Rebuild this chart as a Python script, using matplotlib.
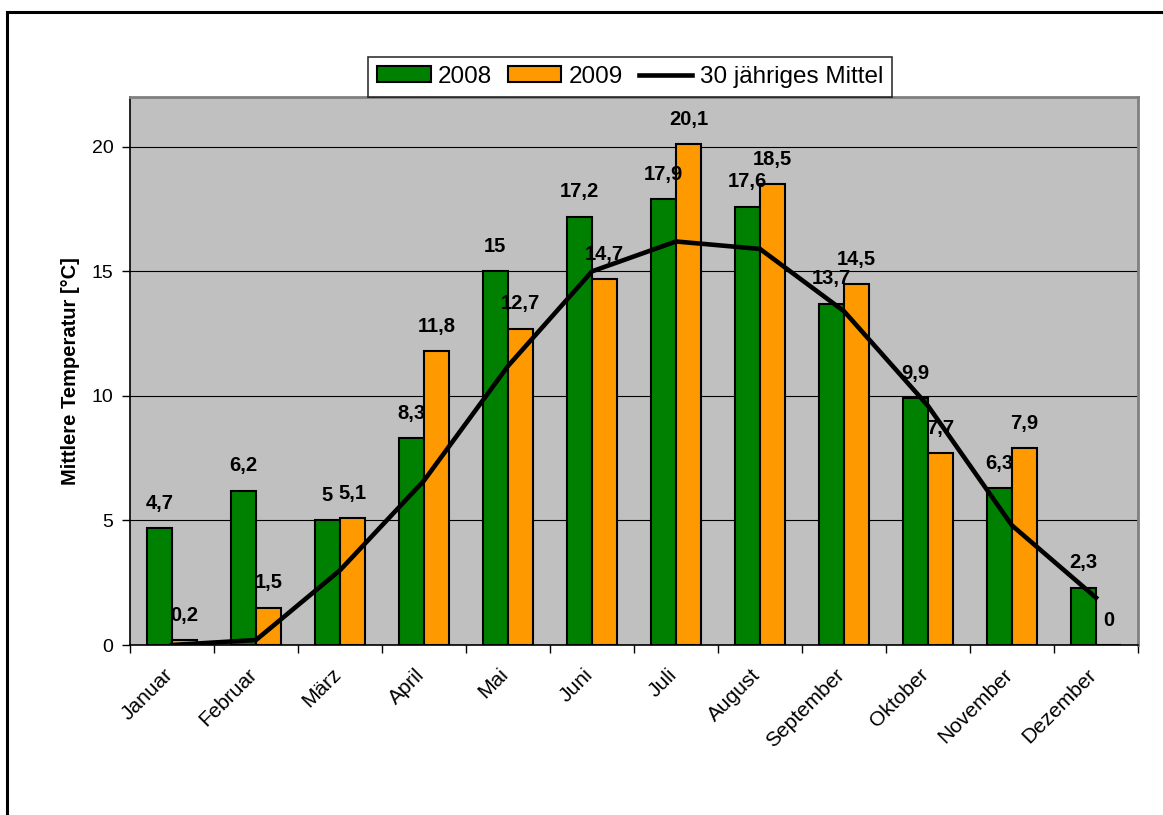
import numpy as np
import matplotlib.pyplot as plt
import matplotlib.patches as mpatches
from matplotlib.transforms import ScaledTranslation
from matplotlib.ticker import FixedLocator

plt.rcParams['font.family'] = ['Liberation Sans', 'DejaVu Sans']

# ─── Data ─────────────────────────────────────────────────────────────────────
MONTHS = ["Januar", "Februar", "März", "April", "Mai", "Juni",
          "Juli", "August", "September", "Oktober", "November", "Dezember"]
T_2008 = [4.7, 6.2, 5.0, 8.3, 15.0, 17.2, 17.9, 17.6, 13.7, 9.9, 6.3, 2.3]
T_2009 = [0.2, 1.5, 5.1, 11.8, 12.7, 14.7, 20.1, 18.5, 14.5, 7.7, 7.9, 0.0]
T_MEAN = [0.0, 0.2, 3.0, 6.6, 11.2, 15.0, 16.2, 15.9, 13.4, 9.6, 4.8, 1.9]

GREEN   = "#008000"
ORANGE  = "#FF9900"
PLOT_BG = "#C0C0C0"
BAR_W   = 0.3
FS      = 14


def fmt(v):
    return f"{v:g}".replace(".", ",")


fig = plt.figure(figsize=(11.63, 8.15), dpi=100)
W, H = 1163, 815
ax = fig.add_axes([130 / W, 1 - 645 / H, (1138 - 130) / W, (645 - 97) / H])
ax.set_facecolor(PLOT_BG)

x = np.arange(len(MONTHS))
b1 = ax.bar(x - BAR_W / 2, T_2008, BAR_W, color=GREEN, edgecolor="black",
            linewidth=1.5, label="2008", zorder=3)
b2 = ax.bar(x + BAR_W / 2, T_2009, BAR_W, color=ORANGE, edgecolor="black",
            linewidth=1.5, label="2009", zorder=3)
ln, = ax.plot(x, T_MEAN, color="black", linewidth=3.3, zorder=4,
              label="30 jähriges Mittel")

# value labels above the bars
for bars, vals in ((b1, T_2008), (b2, T_2009)):
    for rect, v in zip(bars, vals):
        ax.annotate(fmt(v), (rect.get_x() + rect.get_width() / 2, v),
                    xytext=(0, 11), textcoords="offset points",
                    ha="center", va="bottom", fontsize=FS + 0.5,
                    fontweight="bold", zorder=5)

# ── Axes ──────────────────────────────────────────────────────────────────────
ax.set_xlim(-0.5, len(MONTHS) - 0.5)
ax.set_ylim(0, 22)
ax.set_yticks([0, 5, 10, 15, 20])
ax.tick_params(axis="y", labelsize=FS, direction="out", length=6,
               width=1, pad=6)
ax.yaxis.grid(True, color="black", linewidth=0.8, zorder=1)
ax.set_axisbelow(True)

# tick marks between the months, names drawn at the month centres
ax.xaxis.set_major_locator(FixedLocator(np.arange(-0.5, len(MONTHS), 1.0)))
ax.set_xticklabels([])
ax.tick_params(axis="x", which="major", direction="out", length=6, width=1)
shift = ax.get_xaxis_transform() + ScaledTranslation(-0.09, -0.2,
                                                      fig.dpi_scale_trans)
for xi, name in zip(x, MONTHS):
    ax.text(xi, 0, name, transform=shift, rotation=45, ha="right",
            va="top", rotation_mode="anchor", fontsize=15)

ax.set_ylabel("Mittlere Temperatur [°C]", fontsize=14.5,
              fontweight="bold", labelpad=8)

for s in ("left", "bottom"):
    ax.spines[s].set_color("black")
    ax.spines[s].set_linewidth(1.2)
for s in ("top", "right"):
    ax.spines[s].set_color("#808080")
    ax.spines[s].set_linewidth(2)

# ── Legend ────────────────────────────────────────────────────────────────────
leg = fig.legend(handles=[b1, b2, ln], loc="lower left",
                 bbox_to_anchor=(368 / W, 1 - 97 / H), ncol=3,
                 fontsize=17.5, frameon=True, fancybox=False,
                 edgecolor="black", borderpad=0.38, handlelength=2.2,
                 handleheight=0.62, handletextpad=0.3, columnspacing=0.65,
                 borderaxespad=0)
leg.get_frame().set_linewidth(1.2)

# outer chart frame
fig.patches.append(mpatches.Rectangle((7 / W, -0.1), 1.2, 1 - 12 / H + 0.1,
                                      transform=fig.transFigure,
                                      fill=False, edgecolor="black",
                                      linewidth=2.2))

fig.savefig("out.png", dpi=100)
